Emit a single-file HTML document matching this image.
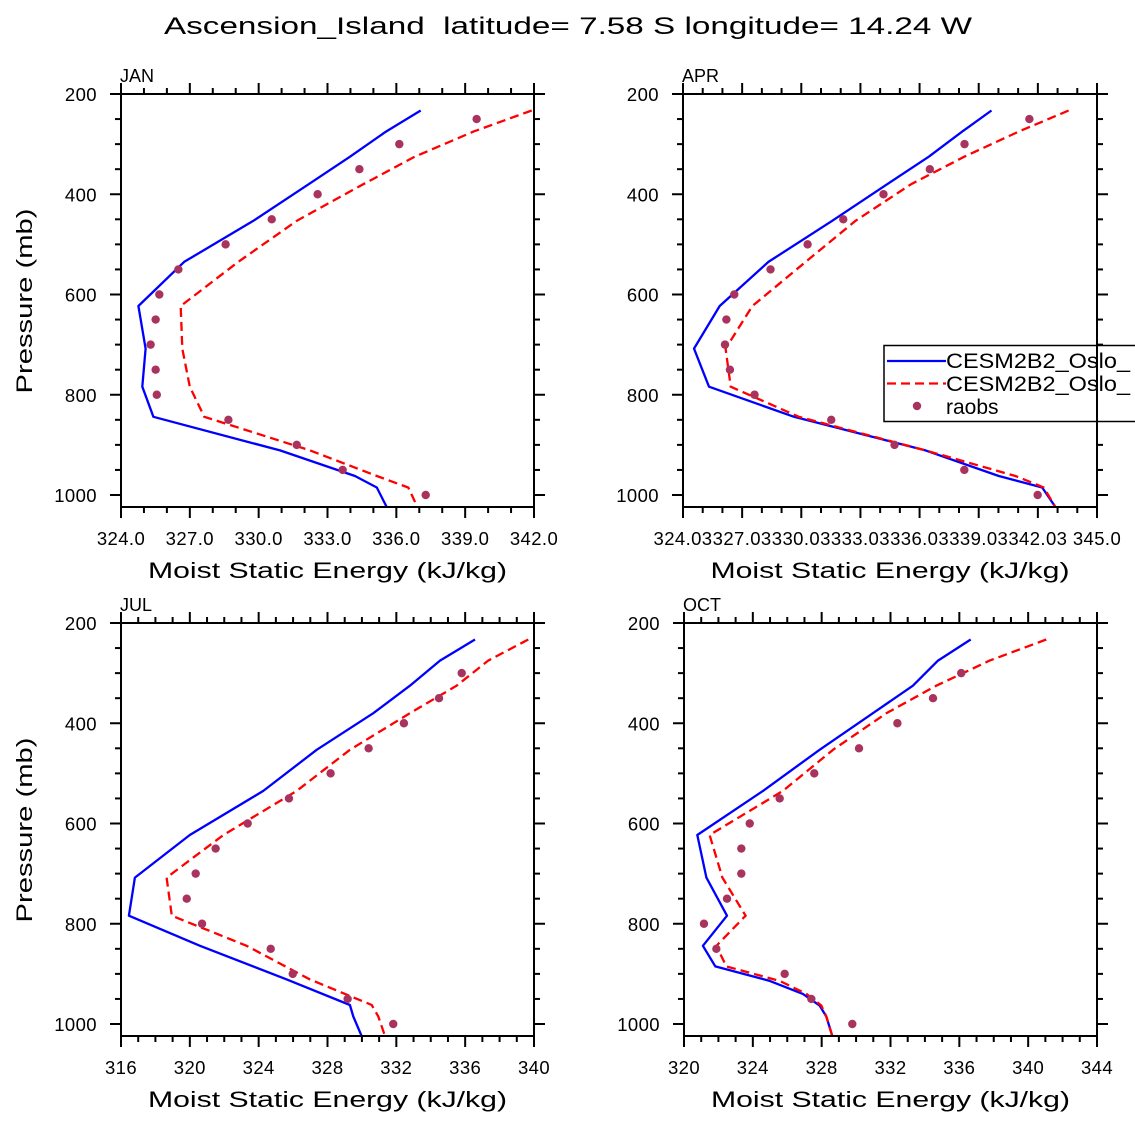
<!DOCTYPE html>
<html><head><meta charset="utf-8"><title>Ascension Island MSE profiles</title>
<style>
html,body{margin:0;padding:0;background:#fff;}
svg{display:block;font-family:"Liberation Sans",sans-serif;}
</style></head>
<body>
<svg id="chart" width="1135" height="1135" viewBox="0 0 1135 1135" xmlns="http://www.w3.org/2000/svg">
<text x="568" y="34" text-anchor="middle" font-size="24" textLength="808" lengthAdjust="spacingAndGlyphs" style="white-space:pre" xml:space="preserve">Ascension_Island  latitude= 7.58 S longitude= 14.24 W</text>
</svg>
<script>
// ---- data ----
const rawPressure = [250,300,350,400,450,500,550,600,650,700,750,800,850,900,950,1000];
const modelLevels = [233,275,325,380,453,535,623,708,784,844,911,962,985,1024];
const octLevels = [233,275,325,380,453,535,623,708,784,844,885,914,940,963,985,1024];

const janBlue = [337.06,335.55,333.98,332.18,329.77,326.75,324.76,325.07,324.93,325.41,330.93,334.2,335.15,335.58];
const janRed  = [341.9,339.36,336.8,334.56,331.66,329.11,326.6,326.67,327.0,327.63,332.24,335.15,336.52,336.92];
const janObs  = [339.5,336.13,334.39,332.57,330.57,328.56,326.5,325.67,325.51,325.29,325.51,325.56,328.68,331.66,333.66,337.28];

const aprBlue = [339.68,338.19,336.5,334.39,331.6,328.36,325.89,324.59,325.35,329.66,336.33,340.05,342.25,342.92];
const aprRed  = [343.59,341.06,338.3,335.6,332.78,330.25,327.55,326.19,326.45,329.91,336.33,340.89,342.33,342.92];
const aprObs  = [341.6,338.31,336.55,334.2,332.16,330.35,328.47,326.63,326.23,326.16,326.41,327.66,331.55,334.76,338.3,342.02];

const julBlue = [336.57,334.54,332.79,330.66,327.37,324.27,320.0,316.81,316.46,320.59,325.63,329.3,329.5,329.98];
const julRed  = [339.67,337.34,335.5,332.79,329.3,326.21,321.95,318.65,318.95,323.3,326.98,330.57,330.95,331.34];
const julObsP = [300,350,400,450,500,550,600,650,700,750,800,850,900,950,1000];
const julObs  = [335.8,334.48,332.44,330.39,328.18,325.76,323.36,321.5,320.34,319.82,320.71,324.7,325.98,329.17,331.82];

const octBlue = [336.66,334.76,333.3,330.98,327.88,324.59,320.77,321.3,322.5,321.1,321.82,324.98,326.91,327.88,328.27,328.62];
const octRed  = [341.05,337.76,334.66,331.76,328.66,325.75,321.49,322.23,323.58,321.88,322.46,325.56,327.11,327.98,328.27,328.62];
const octObsP = [300,350,400,450,500,550,600,650,700,750,800,850,900,950,1000];
const octObs  = [336.11,334.47,332.4,330.17,327.57,325.56,323.82,323.33,323.33,322.5,321.16,321.88,325.85,327.4,329.78];

const janTicks = ["324.0","327.0","330.0","333.0","336.0","339.0","342.0"];
const aprTicks = ["324.03","327.03","330.03","333.03","336.03","339.03","342.03","345.0"];
const julTicks = ["316","320","324","328","332","336","340"];
const octTicks = ["320","324","328","332","336","340","344"];
const yTicks = [200,400,600,800,1000];

// ---- drawing ----
const NS = "http://www.w3.org/2000/svg";
const svg = document.getElementById("chart");
function mk(tag, attrs, parent){
  const e = document.createElementNS(NS, tag);
  for (const k in attrs) e.setAttribute(k, attrs[k]);
  (parent || svg).appendChild(e);
  return e;
}

const panels = [
  {id:"jan", label:"JAN", x0:121, x1:534, y0:94, xmin:324, xmax:342, major:3, minor:1, ticks:janTicks,
   lev:modelLevels, blue:janBlue, red:janRed, obsP:rawPressure, obs:janObs},
  {id:"apr", label:"APR", x0:683, x1:1097, y0:94, xmin:324.03, xmax:345.03, major:3, minor:1, ticks:aprTicks,
   lev:modelLevels, blue:aprBlue, red:aprRed, obsP:rawPressure, obs:aprObs, legend:true},
  {id:"jul", label:"JUL", x0:121, x1:534, y0:623, xmin:316, xmax:340, major:4, minor:1, ticks:julTicks,
   lev:modelLevels, blue:julBlue, red:julRed, obsP:julObsP, obs:julObs},
  {id:"oct", label:"OCT", x0:684, x1:1097, y0:623, xmin:320, xmax:344, major:4, minor:1, ticks:octTicks,
   lev:octLevels, blue:octBlue, red:octRed, obsP:octObsP, obs:octObs}
];

panels.forEach(P => {
  const g = mk("g", {});
  
  
  const y1 = P.y0 + 413;
  const xs = v => P.x0 + (v - P.xmin) / (P.xmax - P.xmin) * (P.x1 - P.x0);
  const ys = p => P.y0 + (p - 200) / 800 * 401;
  const clipId = "clip-" + P.id;
  const cp = mk("clipPath", {id: clipId}, g);
  mk("rect", {x:P.x0, y:P.y0, width:P.x1-P.x0, height:y1-P.y0}, cp);

  const lab = mk("text", {x:P.x0 - 1, y:P.y0 - 12, "font-size":18}, g);
  
  
  lab.textContent = P.label;

  const nMin = Math.round((P.xmax - P.xmin) / P.minor);
  for (let i = 0; i <= nMin; i++) {
    const v = P.xmin + i * P.minor;
    const x = xs(v);
    const isMaj = (i % Math.round(P.major / P.minor)) === 0;
    const L = isMaj ? 11 : 6;
    mk("line", {x1:x, x2:x, y1:P.y0, y2:P.y0 - L, stroke:"#000", "stroke-width":2}, g);
    mk("line", {x1:x, x2:x, y1:y1, y2:y1 + L, stroke:"#000", "stroke-width":2}, g);
  }
  P.ticks.forEach((t, i) => {
    const x = xs(P.xmin + i * P.major);
    const tx = mk("text", {x:x, y:y1 + 38, "text-anchor":"middle", "font-size":18.5, "letter-spacing":"0.4"}, g);
    
    
    tx.textContent = t;
  });
  const xt = mk("text", {x:(P.x0 + P.x1) / 2, y:y1 + 71, "text-anchor":"middle", "font-size":22.5, textLength:359, lengthAdjust:"spacingAndGlyphs"}, g);
  
  
  xt.textContent = "Moist Static Energy (kJ/kg)";

  for (let p = 200; p <= 1000; p += 50) {
    const y = ys(p);
    const isMaj = p % 200 === 0;
    const L = isMaj ? 11 : 6;
    mk("line", {x1:P.x0, x2:P.x0 - L, y1:y, y2:y, stroke:"#000", "stroke-width":2}, g);
    mk("line", {x1:P.x1, x2:P.x1 + L, y1:y, y2:y, stroke:"#000", "stroke-width":2}, g);
  }
  yTicks.forEach(p => {
    const t = mk("text", {x:P.x0 - 24, y:ys(p) + 7, "text-anchor":"end", "font-size":18.5, "letter-spacing":"0.4"}, g);
    
    
    t.textContent = p;
  });
  if (P.x0 < 300) {
    const yc = P.y0 + 207;
    const yt = mk("text", {x:0, y:0, "text-anchor":"middle", "font-size":22.5, textLength:185, lengthAdjust:"spacingAndGlyphs",
      transform:"translate(32," + yc + ") rotate(-90)"}, g);
    
    
    yt.textContent = "Pressure (mb)";
  }

  const dg = mk("g", {"clip-path":"url(#" + clipId + ")"}, g);
  const ptsB = P.blue.map((v, i) => xs(v).toFixed(1) + "," + ys(P.lev[i]).toFixed(1)).join(" ");
  const ptsR = P.red.map((v, i) => xs(v).toFixed(1) + "," + ys(P.lev[i]).toFixed(1)).join(" ");
  const bl = mk("polyline", {points:ptsB, fill:"none", stroke:"#0000ff", "stroke-width":2.3, "stroke-linejoin":"round"}, dg);
  
  
  const rl = mk("polyline", {points:ptsR, fill:"none", stroke:"#ff0000", "stroke-width":2.3, "stroke-dasharray":"9,5"}, dg);
  
  
  P.obs.forEach((v, i) => {
    const c = mk("circle", {cx:xs(v), cy:ys(P.obsP[i]), r:4.2, fill:"#a8335e"}, dg);
    
    
  });

  if (P.legend) {
    const lg = mk("g", {}, g);
    
    
    mk("rect", {x:884, y:345.5, width:260, height:76, fill:"#fff", stroke:"#000", "stroke-width":1.5}, lg);
    mk("line", {x1:887, x2:946, y1:361, y2:361, stroke:"#0000ff", "stroke-width":2.3}, lg);
    mk("line", {x1:887, x2:946, y1:383.5, y2:383.5, stroke:"#ff0000", "stroke-width":2.3, "stroke-dasharray":"9,5"}, lg);
    mk("circle", {cx:917, cy:406, r:4.2, fill:"#a8335e"}, lg);
    const t1 = mk("text", {x:946, y:368, "font-size":21, textLength:184, lengthAdjust:"spacingAndGlyphs"}, lg);
    
    
    t1.textContent = "CESM2B2_Oslo_";
    const t2 = mk("text", {x:946, y:391, "font-size":21, textLength:184, lengthAdjust:"spacingAndGlyphs"}, lg);
    
    
    t2.textContent = "CESM2B2_Oslo_";
    const t3 = mk("text", {x:946, y:414, "font-size":21}, lg);
    
    
    t3.textContent = "raobs";
  }

  const fr = mk("rect", {x:P.x0, y:P.y0, width:P.x1 - P.x0, height:y1 - P.y0, fill:"none", stroke:"#000", "stroke-width":2}, g);
  
  
});
</script>
</body></html>
